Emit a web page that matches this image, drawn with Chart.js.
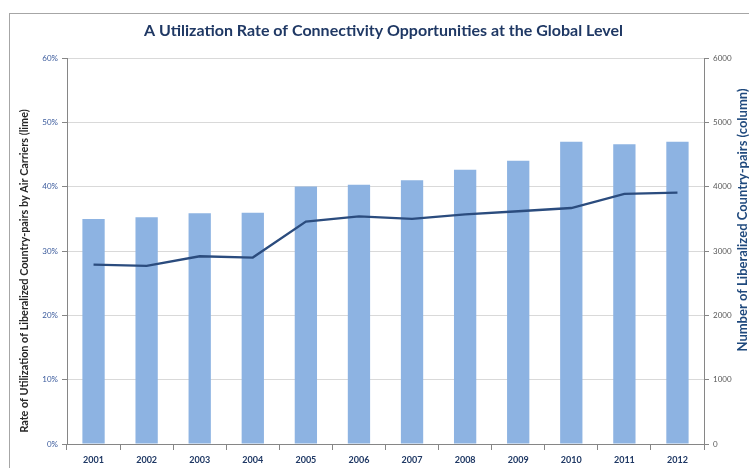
<!DOCTYPE html>
<html>
<head>
<meta charset="utf-8">
<script src="https://cdn.jsdelivr.net/npm/chart.js@4"></script>
<style>
  html, body { margin: 0; padding: 0; background: #fff; }
  #wrap { position: relative; width: 749px; height: 468px; overflow: hidden; }
  #frame { position: absolute; left: 9px; top: 13px; width: 760px; height: 480px; border: 1px solid #a6a6a6; }
  canvas { position: absolute; left: 0; top: 0; }
</style>
</head>
<body>
<div id="wrap">
  <div id="frame"></div>
  <canvas id="chart" width="749" height="468"></canvas>
</div>
<script>
const years = ['2001', '2002', '2003', '2004', '2005', '2006', '2007', '2008', '2009', '2010', '2011', '2012'];
// liberalized country-pairs (columns, right axis)
const pairs = [3500, 3525, 3590, 3595, 4005, 4030, 4100, 4265, 4405, 4700, 4660, 4700];
// utilization rate in % (line, left axis)
const rate = [27.9, 27.7, 29.2, 29.0, 34.6, 35.4, 35.0, 35.7, 36.2, 36.7, 38.9, 39.1];

const navy = '#1F3864';
const axisGrey = '#868686';
const FONT = 'Lato';

// both axis titles read bottom-to-top, so draw them by hand
const sideTitles = {
  id: 'sideTitles',
  afterDraw(chart) {
    const ctx = chart.ctx;
    const draw = (text, x, y, font, color) => {
      ctx.save();
      ctx.translate(x, y);
      ctx.rotate(-Math.PI / 2);
      ctx.font = font;
      ctx.fillStyle = color;
      ctx.textAlign = 'center';
      ctx.textBaseline = 'middle';
      ctx.fillText(text, 0, 0);
      ctx.restore();
    };
    draw('Rate of Utilization of Liberalized Country-pairs by Air Carriers (lime)', 25, 271,
      'bold 10.8px ' + FONT, '#262626');
    draw('Number of Liberalized Country-pairs (column)', 743, 220,
      'bold 13px ' + FONT, '#1F497D');
  }
};

new Chart(document.getElementById('chart'), {
  data: {
    labels: years,
    datasets: [
      {
        type: 'line',
        label: 'Rate',
        data: rate,
        yAxisID: 'y',
        borderColor: '#2B4C7E',
        borderWidth: 2.3,
        pointRadius: 0,
        tension: 0,
        order: 0
      },
      {
        type: 'bar',
        label: 'Pairs',
        data: pairs,
        yAxisID: 'y2',
        backgroundColor: '#8DB3E2',
        barPercentage: 0.42,
        categoryPercentage: 1,
        order: 1
      }
    ]
  },
  options: {
    responsive: false,
    animation: false,
    layout: { padding: { left: 18, right: 0, top: 0, bottom: 0 } },
    plugins: {
      legend: { display: false },
      tooltip: { enabled: false },
      title: {
        display: true,
        text: 'A Utilization Rate of Connectivity Opportunities at the Global Level',
        color: navy,
        font: { family: FONT, size: 16, weight: 'bold' },
        padding: { top: 21, bottom: 18 }
      }
    },
    scales: {
      x: {
        offset: true,
        grid: { offset: true, drawOnChartArea: false, tickLength: 6, color: axisGrey },
        border: { color: axisGrey },
        ticks: { color: navy, font: { family: FONT, size: 9, weight: 'bold' }, padding: 5 },
        afterFit: s => { s.height = 24; }
      },
      y: {
        position: 'left',
        min: 0,
        max: 60,
        ticks: { stepSize: 10, callback: v => v + '%', color: '#3A5A9C', font: { family: FONT, size: 8 }, padding: 4 },
        grid: { color: '#D9D9D9', tickColor: axisGrey, tickLength: 5 },
        border: { color: axisGrey },
        afterFit: s => { s.width = 49; }
      },
      y2: {
        position: 'right',
        min: 0,
        max: 6000,
        ticks: { stepSize: 1000, callback: v => String(v), color: '#595959', font: { family: FONT, size: 8 }, padding: 4 },
        grid: { drawOnChartArea: false, tickColor: axisGrey, tickLength: 5 },
        border: { color: axisGrey },
        afterFit: s => { s.width = 45; }
      }
    }
  },
  plugins: [sideTitles]
});
</script>
</body>
</html>
